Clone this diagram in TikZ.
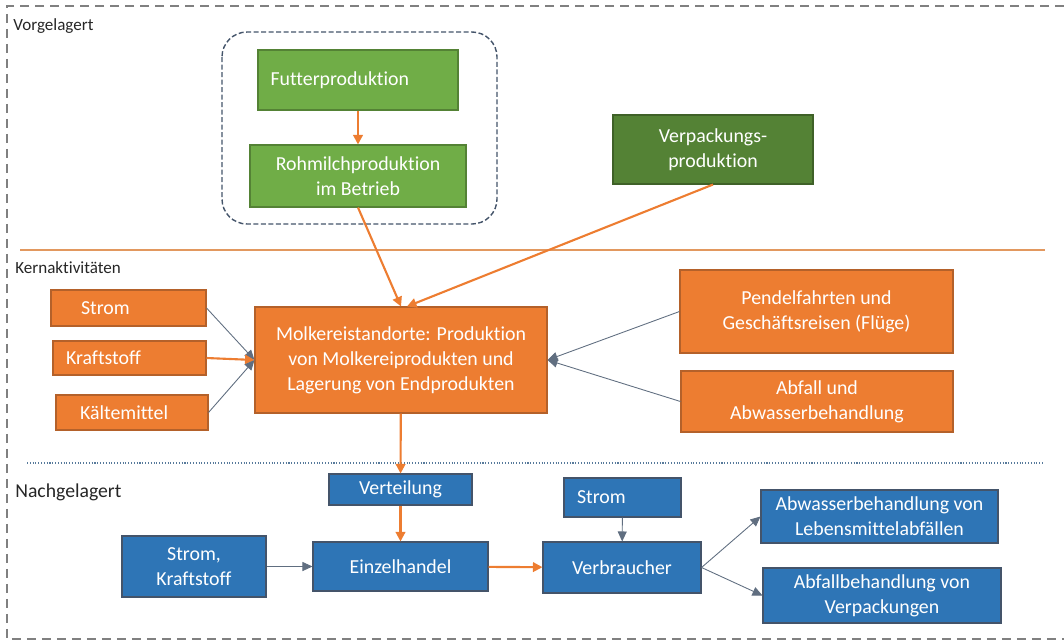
\documentclass[tikz,border=0pt]{standalone}
\usepackage{fontspec}
\setmainfont[Ligatures=NoCommon]{Carlito}
\usepackage{tikz}
\usetikzlibrary{arrows.meta}
\definecolor{kOrange}{HTML}{ED7D31}
\definecolor{kOrangeDark}{HTML}{B4612A}
\definecolor{kGreen}{HTML}{70AD47}
\definecolor{kGreenDark}{HTML}{548235}
\definecolor{kBlue}{HTML}{2E75B6}
\definecolor{kSlate}{HTML}{44546A}
\definecolor{kText}{HTML}{262626}
\tikzset{
    box/.style={rectangle, draw, text=white, inner sep=0mm, align=center, line width=0.6pt,
        font=\fontsize{11.3}{14.2}\selectfont},
    obox/.style={box, fill=kOrange, draw=kOrangeDark},
    gbox/.style={box, fill=kGreen, draw=kGreen!75!black},
    dgbox/.style={box, fill=kGreenDark, draw=kGreenDark!75!black},
    bbox/.style={box, fill=kBlue, draw=kSlate},
    zone/.style={text=kText, anchor=west, inner sep=0mm, font=\fontsize{9.7}{12}\selectfont}
}
\tikzset{
    oarrow/.style={draw=kOrange, line width=1.2pt, -{Triangle[length=1.9mm, width=1.9mm]}},
    sarrow/.style={draw=kSlate!85, line width=0.5pt, -{Triangle[length=2mm, width=1.8mm]}}
}

\begin{document}
\begin{tikzpicture}
  \useasboundingbox (0cm, 0cm) rectangle (21.28cm, -12.84cm);

  % frame and zone lines
  \draw [gray, line width=0.8pt, dash pattern=on 0.18cm off 0.12cm]
    (21.28cm, -0.12cm) -- (0.14cm, -0.12cm) -- (0.14cm, -12.78cm) -- (21.28cm, -12.78cm);
  \draw [kOrange!60!brown!80, line width=0.6pt] (0.4cm, -5cm) -- (20.9cm, -5cm);
  \draw [kBlue!50!gray, line width=0.6pt, densely dotted] (0.54cm, -9.26cm) -- (20.86cm, -9.26cm);
  \draw [kSlate, line width=0.8pt, dash pattern=on 0.1cm off 0.05cm, rounded corners=0.5cm] (4.44cm, -0.64cm) rectangle (9.94cm, -4.48cm);

  \node (vorg) [zone] at (0.26cm, -0.52cm) {Vorgelagert};
  \node (kern) [zone] at (0.3cm, -5.36cm) {Kernaktivitäten};
  \node (nach) [zone, font=\fontsize{11.2}{13}\selectfont] at (0.3cm, -9.84cm) {Nachgelagert};

  % vorgelagert
  \node (futter) [gbox, minimum width=4cm, minimum height=1.2cm, text width=3.5cm, align=left] at (7.16cm, -1.6cm) {Futterproduktion};
  \node (rohmilch) [gbox, minimum width=4.32cm, minimum height=1.24cm] at (7.16cm, -3.52cm) {Rohmilchproduktion\\im Betrieb};
  \node (verpackung) [dgbox, minimum width=4cm, minimum height=1.38cm] at (14.26cm, -2.99cm) {Verpackungs-\\produktion};

  % kernaktivitaeten
  \node (strom) [obox, minimum width=3.1cm, minimum height=0.72cm, text width=1.9cm, align=left] at (2.57cm, -6.16cm) {Strom};
  \node (kraftstoff) [obox, minimum width=3.06cm, minimum height=0.68cm, text width=2.54cm, align=left] at (2.59cm, -7.16cm) {Kraftstoff};
  \node (kaelte) [obox, minimum width=3.04cm, minimum height=0.7cm, text width=2.08cm, align=left] at (2.64cm, -8.25cm) {Kältemittel};
  \node (molkerei) [obox, minimum width=5.84cm, minimum height=2.12cm] at (8.02cm, -7.2cm) {Molkereistandorte: Produktion\\von Molkereiprodukten und\\Lagerung von Endprodukten};
  \node (pendel) [obox, minimum width=5.46cm, minimum height=1.66cm] at (16.33cm, -6.23cm) {Pendelfahrten und\\Geschäftsreisen (Flüge)};
  \node (abfall) [obox, minimum width=5.44cm, minimum height=1.22cm] at (16.34cm, -8.03cm) {Abfall und\\Abwasserbehandlung};

  % nachgelagert
  \node (verteilung) [bbox, minimum width=2.86cm, minimum height=0.62cm] at (8.01cm, -9.79cm) {Verteilung};
  \node (einzel) [bbox, minimum width=3.5cm, minimum height=0.98cm] at (8.01cm, -11.33cm) {Einzelhandel};
  \node (stromkraft) [bbox, minimum width=2.88cm, minimum height=1.22cm] at (3.88cm, -11.33cm) {Strom,\\Kraftstoff};
  \node (stromv) [bbox, minimum width=2.34cm, minimum height=0.78cm, text width=1.82cm, align=left] at (12.45cm, -9.95cm) {Strom};
  \node (verbraucher) [bbox, minimum width=3.16cm, minimum height=1.02cm] at (12.44cm, -11.35cm) {Verbraucher};
  \node (abwasser) [bbox, minimum width=4.74cm, minimum height=1.06cm] at (17.59cm, -10.33cm) {Abwasserbehandlung von\\Lebensmittelabfällen};
  \node (abfallv) [bbox, minimum width=4.76cm, minimum height=1.1cm] at (17.64cm, -11.91cm) {Abfallbehandlung von\\Verpackungen};

  \draw (futter) edge [oarrow] (rohmilch);
  \draw (rohmilch.south) edge [oarrow] (molkerei.north);
  \draw (verpackung.south) edge [oarrow] ([xshift=0.12cm]molkerei.north);

  \draw (strom.east) edge [sarrow] (molkerei.west);
  \draw (kraftstoff.east) edge [oarrow] (molkerei.west);
  \draw (kaelte.east) edge [sarrow] (molkerei.west);
  \draw (pendel.west) edge [sarrow] (molkerei.east);
  \draw (abfall.west) edge [sarrow] (molkerei.east);

  \draw (molkerei) edge [oarrow] (verteilung);
  \draw (verteilung) edge [oarrow] (einzel);
  \draw (stromkraft) edge [sarrow] (einzel);
  \draw (einzel) edge [oarrow] (verbraucher);
  \draw (stromv) edge [sarrow] (verbraucher);
  \draw (verbraucher.east) edge [sarrow] (abwasser.west);
  \draw (verbraucher.east) edge [sarrow] (abfallv.west);
\end{tikzpicture}
\end{document}
